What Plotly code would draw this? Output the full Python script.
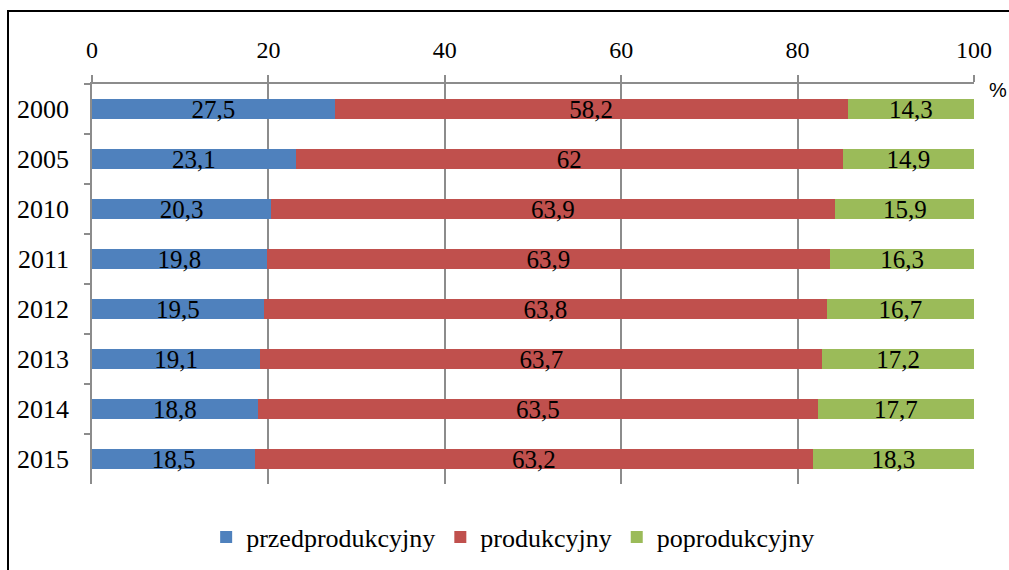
import plotly.graph_objects as go

years = ["2000", "2005", "2010", "2011", "2012", "2013", "2014", "2015"]
przed = [27.5, 23.1, 20.3, 19.8, 19.5, 19.1, 18.8, 18.5]
prod = [58.2, 62, 63.9, 63.9, 63.8, 63.7, 63.5, 63.2]
poprod = [14.3, 14.9, 15.9, 16.3, 16.7, 17.2, 17.7, 18.3]
series_names = ["przedprodukcyjny", "produkcyjny", "poprodukcyjny"]
colors = ["#4F81BD", "#C0504D", "#9BBB59"]
x_ticks = [0, 20, 40, 60, 80, 100]

SERIF = "Liberation Serif, Times New Roman, serif"


def fmt(v):
    return f"{v:g}".replace(".", ",")


fig = go.Figure()
for name, vals, col in zip(series_names, [przed, prod, poprod], colors):
    fig.add_trace(go.Bar(
        y=years, x=vals, name=name, orientation="h",
        marker=dict(color=col, line=dict(width=0)),
        text=[fmt(v) for v in vals],
        textposition="inside", insidetextanchor="middle",
        constraintext="none", textangle=0,
        textfont=dict(family=SERIF, size=25, color="black"),
        hoverinfo="skip",
    ))

# plot area target: x 92..974, y 84..484
fig.update_layout(
    barmode="stack",
    bargap=0.6,
    width=1009, height=570,
    margin=dict(l=92, r=35, t=84, b=86, autoexpand=False),
    paper_bgcolor="white", plot_bgcolor="white",
    font=dict(family=SERIF, size=24, color="black"),
    showlegend=True,
    legend=dict(orientation="h", x=0.4775, xanchor="center",
                yref="container", y=1 - 537 / 570, yanchor="middle",
                font=dict(family=SERIF, size=26, color="black"),
                itemwidth=30, tracegroupgap=0, traceorder="normal"),
    xaxis=dict(side="top", range=[0, 100], tickvals=x_ticks,
               ticktext=[str(t) for t in x_ticks], automargin=False,
               showgrid=True, gridcolor="#8C8C8C", gridwidth=1.5,
               showline=True, linecolor="#8C8C8C", linewidth=1.5,
               ticks="outside", ticklen=7, tickcolor="#8C8C8C", tickwidth=1.5,
               ticklabelstandoff=8,
               tickfont=dict(family=SERIF, size=24, color="black"),
               zeroline=False, fixedrange=True),
    yaxis=dict(categoryorder="array", categoryarray=years, autorange="reversed",
               automargin=False,
               showline=True, linecolor="#8C8C8C", linewidth=1.5,
               ticks="outside", ticklen=6, tickcolor="#8C8C8C", tickwidth=1.5,
               tickson="boundaries", ticklabelstandoff=16,
               tickfont=dict(family=SERIF, size=26, color="black"),
               showgrid=False, zeroline=False, fixedrange=True),
)

fig.add_annotation(text="%", xref="paper", yref="paper", x=1.027, y=0.985,
                   showarrow=False, xanchor="center", yanchor="middle",
                   font=dict(family="Liberation Sans, Arial, sans-serif", size=20, color="black"))

# outer frame
fig.add_shape(type="rect", xref="paper", yref="paper",
              x0=(8 - 92) / 882, x1=(1030 - 92) / 882,
              y0=(484 - 600) / 400, y1=(484 - 11) / 400,
              line=dict(color="black", width=2), layer="above")

fig.write_html("out.html",
               config={"displayModeBar": False},
               post_script="document.body.style.margin='0';document.body.style.overflow='hidden';"
                           "document.documentElement.style.overflow='hidden';")
